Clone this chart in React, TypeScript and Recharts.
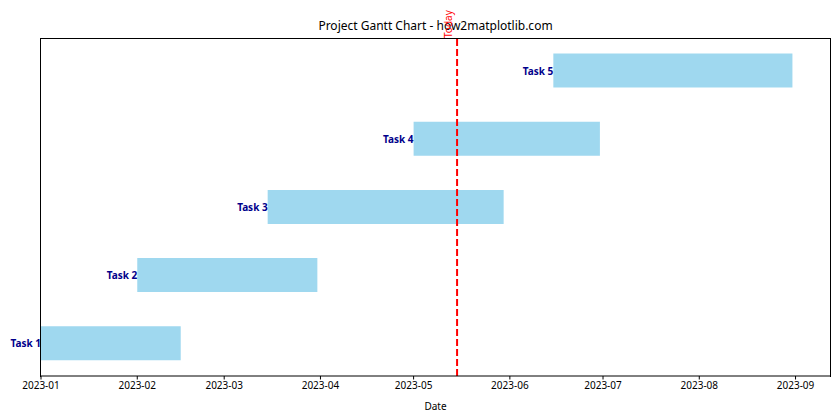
import {
  BarChart,
  Bar,
  XAxis,
  YAxis,
  ReferenceLine,
  LabelList,
} from "recharts";

const toMs = (s: string) => Date.parse(s + "T00:00:00Z");

const tasks = ["Task 1", "Task 2", "Task 3", "Task 4", "Task 5"];
const starts = ["2023-01-01", "2023-02-01", "2023-03-15", "2023-05-01", "2023-06-15"];
const ends = ["2023-02-15", "2023-03-31", "2023-05-30", "2023-06-30", "2023-08-31"];
const monthTicks = [
  "2023-01-01", "2023-02-01", "2023-03-01", "2023-04-01", "2023-05-01",
  "2023-06-01", "2023-07-01", "2023-08-01", "2023-09-01",
];
const today = "2023-05-15";

const rows = tasks.map((t, i) => ({
  task: t,
  range: [toMs(starts[i]), toMs(ends[i])],
}));

const minX = toMs(starts[0]);
const maxEnd = Math.max(...ends.map(toMs));
const maxX = maxEnd + (maxEnd - minX) * 0.05;

const font = "'Noto Sans', 'DejaVu Sans', sans-serif";

const fmt = (v: number) => {
  const d = new Date(v);
  return `${d.getUTCFullYear()}-${String(d.getUTCMonth() + 1).padStart(2, "0")}`;
};

const TaskLabel = (props: any) => {
  const { x, y, height, value } = props;
  return (
    <text
      x={x}
      y={y + height / 2}
      textAnchor="end"
      dominantBaseline="central"
      fontSize={10}
      fontWeight="bold"
      fill="#00008B"
      fontFamily={font}
    >
      {value}
    </text>
  );
};

const TodayLabel = (props: any) => {
  const { viewBox } = props;
  const x = viewBox.x - 5.5;
  const y = viewBox.y;
  return (
    <text
      x={x}
      y={y}
      transform={`rotate(-90 ${x} ${y})`}
      textAnchor="start"
      fontSize={10}
      fill="red"
      fontFamily={font}
    >
      Today
    </text>
  );
};

export default function App() {
  return (
    <div style={{ position: "absolute", left: 0, top: 0, width: 840, height: 420, background: "#fff" }}>
      <div
        style={{
          position: "absolute",
          left: 41,
          width: 789,
          top: 18,
          textAlign: "center",
          fontFamily: font,
          fontSize: 12,
          lineHeight: "16px",
          color: "#000",
        }}
      >
        Project Gantt Chart - how2matplotlib.com
      </div>
      <BarChart
        width={840}
        height={420}
        data={rows}
        layout="vertical"
        margin={{ top: 38, right: 10, bottom: 0, left: 41 }}
        style={{ overflow: "visible" }}
      >
        <XAxis
          type="number"
          dataKey="range"
          domain={[minX, maxX]}
          ticks={monthTicks.map(toMs)}
          tickFormatter={fmt}
          allowDataOverflow
          height={44}
          tickSize={3.5}
          tickMargin={2}
          stroke="#000"
          tick={{ fill: "#000", fontSize: 10, fontFamily: font }}
          label={{ value: "Date", position: "insideBottom", offset: 10, fill: "#000", fontSize: 10, fontFamily: font }}
        />
        <YAxis type="category" dataKey="task" reversed hide padding={{ top: -1.5, bottom: -1.5 }} />
        <Bar dataKey="range" fill="#87CEEB" fillOpacity={0.8} barSize={34} isAnimationActive={false}>
          <LabelList dataKey="task" content={TaskLabel} />
        </Bar>
        <ReferenceLine
          x={toMs(today)}
          stroke="red"
          strokeWidth={2}
          strokeDasharray="7 3"
          label={TodayLabel}
        />
      </BarChart>
      {/* axes frame (top, left, right spines) */}
      <div
        style={{
          position: "absolute",
          left: 40,
          top: 38,
          width: 789,
          height: 338,
          borderTop: "1px solid #000",
          borderLeft: "1px solid #000",
          borderRight: "1px solid #000",
          pointerEvents: "none",
        }}
      />
    </div>
  );
}
